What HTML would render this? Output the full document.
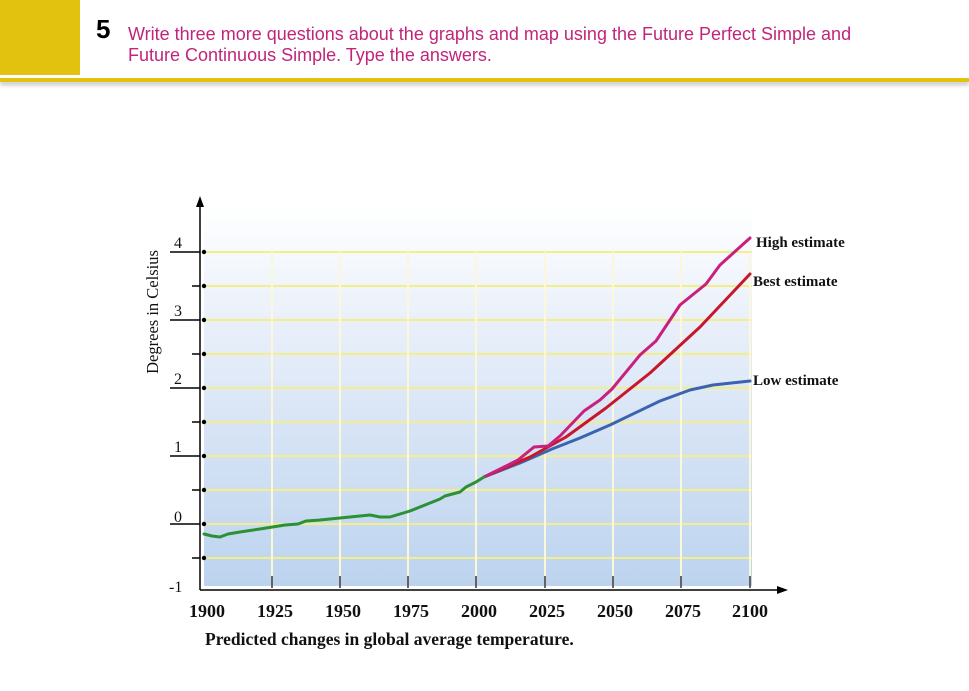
<!DOCTYPE html>
<html><head><meta charset="utf-8"><style>
body{margin:0;width:969px;height:691px;background:#fff;overflow:hidden;position:relative;font-family:"Liberation Sans",sans-serif}
.yb{position:absolute;left:0;top:0;width:80px;height:75px;background:#e2c10f}
.bar{position:absolute;left:0;top:78px;width:969px;height:4px;background:#e2c10f;box-shadow:0 3px 4px rgba(0,0,0,0.25)}
.n{position:absolute;left:96px;top:14px;font-size:26px;font-weight:bold;color:#000}
.t{position:absolute;left:128px;top:24px;font-size:18px;line-height:21px;color:#c0257a}
</style></head><body>
<div class="yb"></div><div class="bar"></div>
<div class="n">5</div>
<div class="t">Write three more questions about the graphs and map using the Future Perfect Simple and<br>Future Continuous Simple. Type the answers.</div>
<svg width="969" height="691" style="position:absolute;left:0;top:0" font-family="Liberation Serif, serif">
<defs><linearGradient id="g" x1="0" y1="0" x2="0" y2="1"><stop offset="0" stop-color="#ffffff"/><stop offset="0.3" stop-color="#eaf0fa"/><stop offset="1" stop-color="#bcd3ef"/></linearGradient></defs>
<rect x="204" y="205" width="548" height="381" fill="url(#g)"/>
<g stroke="#f3ef86" stroke-width="2">
<line x1="204" y1="252" x2="752" y2="252"/><line x1="204" y1="286" x2="752" y2="286"/><line x1="204" y1="320" x2="752" y2="320"/><line x1="204" y1="354" x2="752" y2="354"/><line x1="204" y1="388" x2="752" y2="388"/><line x1="204" y1="422" x2="752" y2="422"/><line x1="204" y1="456" x2="752" y2="456"/><line x1="204" y1="490" x2="752" y2="490"/><line x1="204" y1="524" x2="752" y2="524"/><line x1="204" y1="558" x2="752" y2="558"/>
</g>
<g stroke="#faf8d8" stroke-width="2">
<line x1="272" y1="252" x2="272" y2="586"/><line x1="340" y1="252" x2="340" y2="586"/><line x1="408" y1="252" x2="408" y2="586"/><line x1="476" y1="252" x2="476" y2="586"/><line x1="545" y1="252" x2="545" y2="586"/><line x1="613" y1="252" x2="613" y2="586"/><line x1="681" y1="252" x2="681" y2="586"/><line x1="750" y1="252" x2="750" y2="586"/>
</g>
<g stroke="#333" stroke-width="1.5">
<line x1="272" y1="576" x2="272" y2="588"/><line x1="340" y1="576" x2="340" y2="588"/><line x1="408" y1="576" x2="408" y2="588"/><line x1="476" y1="576" x2="476" y2="588"/><line x1="545" y1="576" x2="545" y2="588"/><line x1="613" y1="576" x2="613" y2="588"/><line x1="681" y1="576" x2="681" y2="588"/><line x1="750" y1="576" x2="750" y2="588"/>
</g>
<g stroke="#000" stroke-width="1.5">
<line x1="200" y1="590" x2="200" y2="205"/><line x1="200" y1="590" x2="780" y2="590"/>
<line x1="170" y1="252" x2="200" y2="252"/><line x1="170" y1="320" x2="200" y2="320"/><line x1="170" y1="388" x2="200" y2="388"/><line x1="170" y1="456" x2="200" y2="456"/><line x1="170" y1="524" x2="200" y2="524"/>
<line x1="192" y1="286" x2="200" y2="286"/><line x1="192" y1="354" x2="200" y2="354"/><line x1="192" y1="422" x2="200" y2="422"/><line x1="192" y1="490" x2="200" y2="490"/><line x1="192" y1="558" x2="200" y2="558"/>
</g>
<polygon points="200,196 196,207 204,207" fill="#000"/>
<polygon points="788,590 777,586 777,594" fill="#000"/>
<g fill="#000"><circle cx="204" cy="252" r="2.2"/><circle cx="204" cy="286" r="2.2"/><circle cx="204" cy="320" r="2.2"/><circle cx="204" cy="354" r="2.2"/><circle cx="204" cy="388" r="2.2"/><circle cx="204" cy="422" r="2.2"/><circle cx="204" cy="456" r="2.2"/><circle cx="204" cy="490" r="2.2"/><circle cx="204" cy="524" r="2.2"/><circle cx="204" cy="558" r="2.2"/></g>
<g font-size="16" fill="#111">
<text x="174" y="248">4</text><text x="174" y="316">3</text><text x="174" y="384">2</text><text x="174" y="452">1</text><text x="174" y="522">0</text><text x="169" y="592">-1</text>
</g>
<text transform="translate(158,312) rotate(-90)" text-anchor="middle" font-size="16.5" fill="#111">Degrees in Celsius</text>
<g font-size="18" font-weight="bold" fill="#111" text-anchor="middle">
<text x="207" y="617">1900</text><text x="275" y="617">1925</text><text x="343" y="617">1950</text><text x="411" y="617">1975</text><text x="479" y="617">2000</text><text x="547" y="617">2025</text><text x="615" y="617">2050</text><text x="683" y="617">2075</text><text x="750" y="617">2100</text>
</g>
<text x="205" y="645" font-size="17.5" font-weight="bold" fill="#111">Predicted changes in global average temperature.</text>
<g fill="none" stroke-width="3" stroke-linejoin="round" stroke-linecap="round">
<polyline stroke="#3b64b0" points="484,477 520,463 552,449 580,438 610,425 660,401 690,390 713,385 750,381"/>
<polyline stroke="#c8172c" points="484,477 530,457 566,437 606,408 650,373 700,327 750,274"/>
<polyline stroke="#c8207e" points="484,477 518,460 534,447 548,446 560,436 584,411 600,400 612,389 640,355 656,341 680,305 706,284 720,265 750,238"/>
<polyline stroke="#2a9134" points="204,534 212,536 220,537 228,534 240,532 260,529 285,525 298,524 306,521 320,520 340,518 360,516 370,515 380,517 390,517 410,511 440,499 445,496 460,492 466,487 476,482 484,477"/>
</g>
<g font-size="15" font-weight="bold" fill="#111">
<text x="756" y="247">High estimate</text><text x="753" y="286">Best estimate</text><text x="753" y="385">Low estimate</text>
</g>
</svg>
</body></html>
